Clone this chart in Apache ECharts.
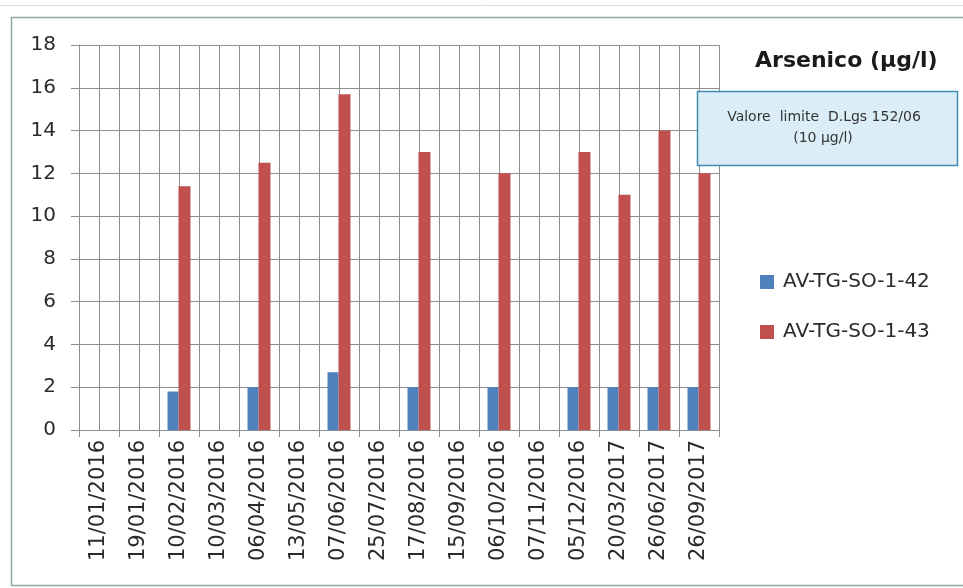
<!DOCTYPE html>
<html>
<head>
<meta charset="utf-8">
<script src="https://cdn.jsdelivr.net/npm/echarts@6/dist/echarts.min.js"></script>
<style>
  html, body { margin: 0; padding: 0; background: #ffffff; }
  #chart { width: 963px; height: 588px; }
</style>
</head>
<body>
<div id="chart"></div>
<script>
// Sampling dates
const dates = [
  '11/01/2016', '19/01/2016', '10/02/2016', '10/03/2016', '06/04/2016',
  '13/05/2016', '07/06/2016', '25/07/2016', '17/08/2016', '15/09/2016',
  '06/10/2016', '07/11/2016', '05/12/2016', '20/03/2017', '26/06/2017',
  '26/09/2017'
];

// Arsenic concentration (µg/l) per well
const seriesNames = ['AV-TG-SO-1-42', 'AV-TG-SO-1-43'];
const well42 = [null, null, 1.8, null, 2, null, 2.7, null, 2, null, 2, null, 2, 2, 2, 2];
const well43 = [null, null, 11.4, null, 12.5, null, 15.7, null, 13, null, 12, null, 13, 11, 14, 12];

const titleText = 'Arsenico (µg/l)';
const limitNote = ['Valore  limite  D.Lgs 152/06', '(10 µg/l)'];

const FONT = 'DejaVu Sans';
const GRID_COLOR = '#8e8e8e';
const TEXT_COLOR = '#2b2b2b';

const chart = echarts.init(document.getElementById('chart'), null, { renderer: 'canvas' });

chart.setOption({
  backgroundColor: '#ffffff',
  animation: false,
  color: ['#4f81bd', '#c0504d'],
  title: {
    text: titleText,
    left: 755,
    top: 50,
    padding: 0,
    textStyle: { fontFamily: FONT, fontSize: 22, fontWeight: 'bold', color: '#1a1a1a' }
  },
  legend: {
    orient: 'vertical',
    left: 760,
    top: 272,
    padding: 0,
    itemWidth: 14,
    itemHeight: 14,
    itemGap: 30,
    icon: 'rect',
    data: seriesNames,
    textStyle: { fontFamily: FONT, fontSize: 20, color: TEXT_COLOR, padding: [0, 0, 0, 4] }
  },
  grid: { left: 79, right: 244, top: 45, bottom: 158, containLabel: false },
  xAxis: [
    {
      type: 'category',
      data: dates,
      boundaryGap: true,
      axisLine: { show: true, lineStyle: { color: GRID_COLOR, width: 1 } },
      axisTick: { show: true, inside: false, length: 7, lineStyle: { color: GRID_COLOR } },
      splitLine: { show: false },
      axisLabel: {
        rotate: 90,
        interval: 0,
        margin: 10,
        fontFamily: FONT,
        fontSize: 21,
        color: TEXT_COLOR
      }
    },
    {
      // half-category grid lines
      type: 'value',
      min: 0,
      max: 32,
      interval: 1,
      position: 'top',
      axisLine: { show: false },
      axisTick: { show: false },
      axisLabel: { show: false },
      splitLine: { show: true, lineStyle: { color: GRID_COLOR, width: 1 } }
    }
  ],
  yAxis: {
    type: 'value',
    min: 0,
    max: 18,
    interval: 2,
    axisLine: { show: true, lineStyle: { color: GRID_COLOR, width: 1 } },
    axisTick: { show: true, inside: false, length: 8, lineStyle: { color: GRID_COLOR } },
    splitLine: { show: true, lineStyle: { color: GRID_COLOR, width: 1 } },
    axisLabel: { margin: 23, fontFamily: FONT, fontSize: 20, color: TEXT_COLOR }
  },
  series: [
    {
      name: seriesNames[0],
      type: 'bar',
      xAxisIndex: 0,
      data: well42,
      barWidth: 11,
      barGap: '0%',
      z: 3
    },
    {
      name: seriesNames[1],
      type: 'bar',
      xAxisIndex: 0,
      data: well43,
      barWidth: 12,
      barGap: '0%',
      z: 3
    }
  ],
  graphic: [
    {
      type: 'line',
      silent: true,
      z: 0,
      shape: { x1: 0, y1: 5.5, x2: 963, y2: 5.5 },
      style: { stroke: '#e6d8de', lineWidth: 1 }
    },
    {
      type: 'rect',
      silent: true,
      z: 0,
      shape: { x: 11.5, y: 17.5, width: 1100, height: 568 },
      style: { fill: 'none', stroke: '#8fa5a8', lineWidth: 1.5 }
    },
    {
      type: 'rect',
      z: 100,
      shape: { x: 697.5, y: 91.5, width: 260, height: 74 },
      style: { fill: '#dbeef7', stroke: '#3f8cae', lineWidth: 1.5 }
    },
    {
      type: 'text',
      z: 101,
      style: {
        x: 824,
        y: 117,
        text: limitNote[0],
        textAlign: 'center',
        textVerticalAlign: 'middle',
        fontFamily: FONT,
        fontSize: 14,
        fill: '#333333'
      }
    },
    {
      type: 'text',
      z: 101,
      style: {
        x: 823,
        y: 138,
        text: limitNote[1],
        textAlign: 'center',
        textVerticalAlign: 'middle',
        fontFamily: FONT,
        fontSize: 14,
        fill: '#333333'
      }
    }
  ]
});
</script>
</body>
</html>
